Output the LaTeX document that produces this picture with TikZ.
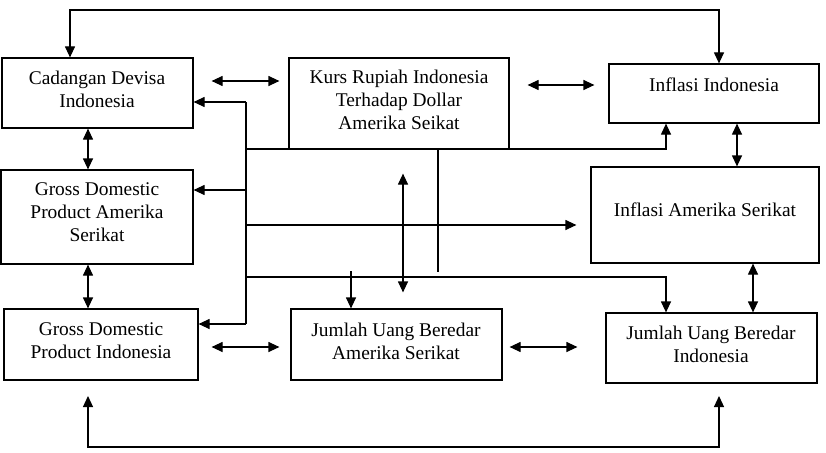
\documentclass[tikz,border=0pt]{standalone}
\usepackage{fontspec}
\setmainfont{Liberation Serif}
\usetikzlibrary{arrows.meta,calc}
\begin{document}
\begin{tikzpicture}[x=1pt,y=-1pt,
  box/.style={draw, line width=1.2pt, inner sep=0pt},
  txt/.style={align=center, inner sep=0pt, font=\fontsize{19.4pt}{23pt}\selectfont},
  ln/.style={line width=1.2pt},
  arr/.style={line width=1.2pt, -{Triangle[length=11pt,width=10pt]}},
  dbl/.style={line width=1.2pt, {Triangle[length=11pt,width=10pt]}-{Triangle[length=11pt,width=10pt]}}]
\useasboundingbox (0,0) rectangle (826,452);

% boxes
\node[box, minimum width=191pt, minimum height=70pt] (cad)  at (97.5,93)   {};
\node[box, minimum width=220pt, minimum height=91pt] (kurs) at (399,103.5) {};
\node[box, minimum width=210pt, minimum height=59pt] (infI) at (714,93.5)  {};
\node[box, minimum width=192pt, minimum height=94pt] (gdpA) at (97,217)    {};
\node[box, minimum width=228pt, minimum height=96pt] (infA) at (705,215)   {};
\node[box, minimum width=194pt, minimum height=71pt] (gdpI) at (101,344.5) {};
\node[box, minimum width=211pt, minimum height=71pt] (jumA) at (396.5,344.5) {};
\node[box, minimum width=211pt, minimum height=70pt] (jumI) at (711.5,348) {};

% texts
\node[txt] (cadT)  at (97,89)   {Cadangan Devisa\\Indonesia};
\node[txt] (kursT) at (399,100) {Kurs Rupiah Indonesia\\Terhadap Dollar\\Amerika Seikat};
\node[txt] (infIT) at (714,85)  {Inflasi Indonesia};
\node[txt] (gdpAT) at (97,212)  {Gross Domestic\\Product Amerika\\Serikat};
\node[txt] (infAT) at (705,210) {Inflasi Amerika Serikat};
\node[txt] (gdpIT) at (101,341) {Gross Domestic\\Product Indonesia};
\node[txt] (jumAT) at (396,341) {Jumlah Uang Beredar\\Amerika Serikat};
\node[txt] (jumIT) at (711,344) {Jumlah Uang Beredar\\Indonesia};

% coordinates
\coordinate (t1) at (70,10);
\coordinate (t2) at (719,10);
\coordinate (b1) at (88,447);
\coordinate (b2) at (719,447);
\coordinate (bL) at (88,396);
\coordinate (bR) at (719,396);
\coordinate (busT) at (246,102);
\coordinate (busB) at (246,324);
\coordinate (h1) at (246,149);
\coordinate (h2) at (246,225);
\coordinate (h3) at (246,277);
\coordinate (k1) at (438,272);
\coordinate (m1) at (351,271);

% loops
\draw[dbl] (t1 |- cad.north) -- (t1) -- (t2) -- (t2 |- infI.north);
\draw[dbl] (bL) -- (b1) -- (b2) -- (bR);

% horizontal double arrows
\draw[dbl, shorten <=18pt, shorten >=9pt] ([yshift=12pt]cad.east) -- ([yshift=22.5pt]kurs.west);
\draw[dbl, shorten <=18pt, shorten >=14pt] ([yshift=18.5pt]kurs.east) -- ([yshift=8.5pt]infI.west);
\draw[dbl, shorten <=13pt, shorten >=11pt] ([yshift=-2.5pt]gdpI.east) -- ([yshift=-2.5pt]jumA.west);
\draw[dbl, shorten <=7pt, shorten >=28pt] ([yshift=-2.5pt]jumA.east) -- ([yshift=1pt]jumI.west);

% vertical double arrows
\draw[dbl] ([xshift=-9.5pt]cad.south) -- ([xshift=-9pt]gdpA.north);
\draw[dbl] ([xshift=-9pt]gdpA.south) -- ([xshift=-13pt]gdpI.north);
\draw[dbl] ([xshift=23pt]infI.south) -- ([xshift=32pt]infA.north);
\draw[dbl] ([xshift=48pt]infA.south) -- ([xshift=41.5pt]jumI.north);
\draw[dbl, shorten <=24pt, shorten >=16pt] ([xshift=4pt]kurs.south) -- ([xshift=6.5pt]jumA.north);

% bus
\draw[ln] (busT) -- (busB);
\draw[arr] (busT) -- (busT -| cad.east);
\draw[arr] (246,190) -- (gdpA.east |- 246,190);
\draw[arr] (busB) -- (busB -| gdpI.east);
\draw[arr] (h1) -- ([xshift=-48pt]infI.south |- h1) -- ([xshift=-48pt]infI.south);
\draw[arr, shorten >=14pt] (h2) -- (h2 -| infA.west);
\draw[arr] (h3) -- ([xshift=-45.5pt]jumI.north |- h3) -- ([xshift=-45.5pt]jumI.north);
\draw[ln] ([xshift=39pt]kurs.south) -- (k1);
\draw[arr] (m1) -- (m1 |- jumA.north);
\end{tikzpicture}
\end{document}
